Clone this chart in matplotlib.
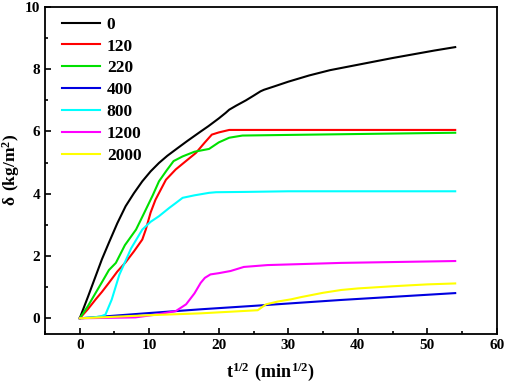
import numpy as np
import matplotlib.pyplot as plt
from matplotlib.ticker import MultipleLocator

plt.rcParams['font.family'] = ['Liberation Serif', 'DejaVu Serif']
plt.rcParams['font.weight'] = 'bold'
plt.rcParams['mathtext.fontset'] = 'custom'
plt.rcParams['mathtext.rm'] = 'Liberation Serif:bold'
plt.rcParams['mathtext.bf'] = 'Liberation Serif:bold'

labels = ['0', '120', '220', '400', '800', '1200', '2000']
colors = ['black', 'red', '#00e000', '#0000e0', 'cyan', 'magenta', 'yellow']

x_0 = [0, 1.2, 2.3, 3.2, 4.2, 5.4, 6.6, 7.8, 9.0, 10.2, 11.4, 12.6, 14.1, 15.5, 17.4, 18.5, 20, 21, 21.5,
       22.5, 23.9, 25, 26, 26.5, 28, 30, 33, 36, 39, 42, 45, 48, 51, 54]
y_0 = [0, 0.7, 1.36, 1.9, 2.43, 3.05, 3.6, 4.02, 4.4, 4.72, 4.99, 5.22, 5.47, 5.7, 6.0, 6.17, 6.42, 6.6, 6.7,
       6.83, 7.0, 7.15, 7.29, 7.34, 7.45, 7.6, 7.8, 7.97, 8.1, 8.23, 8.36, 8.48, 8.6, 8.71]

x_120 = [0, 1.2, 2.3, 3.2, 4.2, 5.4, 6.6, 7.8, 9.0, 9.5, 10.2, 10.9, 12.4, 13.8, 15, 16.7, 18, 19, 20, 21.5, 30, 54]
y_120 = [0, 0.3, 0.61, 0.85, 1.14, 1.5, 1.8, 2.15, 2.53, 2.85, 3.4, 3.81, 4.45, 4.78, 5.0, 5.31, 5.65, 5.9, 5.97, 6.05, 6.05, 6.05]

x_220 = [0, 1.2, 2.3, 3.3, 4.2, 5.2, 6.5, 8.1, 9.2, 10.5, 11.4, 12.5, 13.5, 14.8, 16.5, 18.6, 20, 21.5, 23.4, 30, 54]
y_220 = [0, 0.4, 0.82, 1.2, 1.55, 1.78, 2.35, 2.85, 3.35, 3.95, 4.4, 4.75, 5.05, 5.2, 5.35, 5.44, 5.65, 5.8, 5.87, 5.89, 5.96]

x_400 = [0, 10, 17.4, 25, 37.6, 54]
y_400 = [0, 0.17, 0.29, 0.4, 0.59, 0.81]

x_800 = [0, 2, 3.0, 3.7, 4.6, 5.7, 6.6, 7.4, 9, 10.2, 11.4, 12.9, 13.8, 14.8, 16.5, 18.6, 19.6, 23.9, 30, 54]
y_800 = [0, 0.03, 0.06, 0.12, 0.6, 1.4, 1.85, 2.25, 2.85, 3.1, 3.28, 3.55, 3.7, 3.87, 3.95, 4.03, 4.05, 4.06, 4.08, 4.08]

x_1200 = [0, 8, 11, 13.8, 15.3, 16.5, 17.4, 18.0, 18.8, 20, 21.7, 23.6, 27, 37.6, 54]
y_1200 = [0, 0.03, 0.12, 0.23, 0.45, 0.8, 1.14, 1.3, 1.41, 1.45, 1.52, 1.65, 1.71, 1.78, 1.84]

x_2000 = [0, 10, 17.4, 25.6, 26.8, 28.5, 30.4, 31.8, 35, 37.6, 40, 45, 50, 54]
y_2000 = [0, 0.1, 0.16, 0.26, 0.45, 0.54, 0.61, 0.68, 0.82, 0.91, 0.96, 1.03, 1.09, 1.12]

xs = [x_0, x_120, x_220, x_400, x_800, x_1200, x_2000]
ys = [y_0, y_120, y_220, y_400, y_800, y_1200, y_2000]

fig = plt.figure(figsize=(5.05, 3.86), dpi=100)
ax = fig.add_axes([0.089, 0.135, 0.895, 0.847])

for xv, yv, c, lab in zip(xs, ys, colors, labels):
    ax.plot(xv, yv, color=c, lw=1.5, label=lab)

ax.set_xlim(-5, 60)
ax.set_ylim(-0.5, 10)
ax.xaxis.set_major_locator(MultipleLocator(10))
ax.xaxis.set_minor_locator(MultipleLocator(5))
ax.yaxis.set_major_locator(MultipleLocator(2))
ax.yaxis.set_minor_locator(MultipleLocator(1))
ax.tick_params(which='both', direction='in', top=False, right=False, labelsize=11, width=1.2)
ax.tick_params(which='major', length=4)
ax.tick_params(which='minor', length=2.5)
for s in ax.spines.values():
    s.set_linewidth(1.3)

ax.set_xlabel(r'$\mathbf{t^{1/2}\ (min^{1/2})}$', fontsize=13, labelpad=6)
ax.set_ylabel(r'$\mathbf{\delta\ (kg/m^{2})}$', fontsize=12.5, labelpad=2)

ax.legend(loc='upper left', bbox_to_anchor=(0.016, 1.0), frameon=False, handlelength=2.2,
          handletextpad=0.4, labelspacing=0.33, borderaxespad=0.15,
          prop={'weight': 'bold', 'size': 12.5})

fig.savefig('out.png', dpi=100)
